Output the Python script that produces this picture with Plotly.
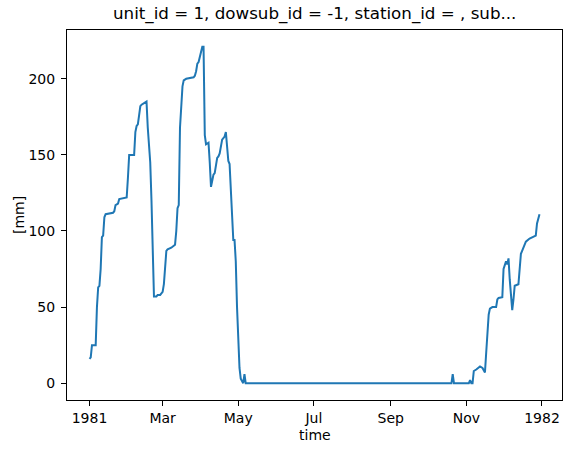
import plotly.graph_objects as go

# Daily series (breakpoints), 1981
dates = [
    "1981-01-01", "1981-01-02", "1981-01-03", "1981-01-06", "1981-01-07", "1981-01-08",
    "1981-01-09", "1981-01-10", "1981-01-11", "1981-01-12", "1981-01-13", "1981-01-14",
    "1981-01-20", "1981-01-21", "1981-01-22", "1981-01-24", "1981-01-25", "1981-01-31",
    "1981-02-01", "1981-02-02", "1981-02-06", "1981-02-07", "1981-02-08", "1981-02-09",
    "1981-02-10", "1981-02-11", "1981-02-12", "1981-02-14", "1981-02-16", "1981-02-17",
    "1981-02-19", "1981-02-20", "1981-02-22", "1981-02-24", "1981-02-25", "1981-02-27",
    "1981-02-28", "1981-03-01", "1981-03-02", "1981-03-03", "1981-03-04", "1981-03-05",
    "1981-03-08", "1981-03-11", "1981-03-12", "1981-03-13", "1981-03-14", "1981-03-15",
    "1981-03-16", "1981-03-17", "1981-03-18", "1981-03-20", "1981-03-26", "1981-03-27",
    "1981-03-28", "1981-03-29", "1981-03-30", "1981-03-31", "1981-04-01", "1981-04-02",
    "1981-04-03", "1981-04-04", "1981-04-05", "1981-04-07", "1981-04-08", "1981-04-09",
    "1981-04-10", "1981-04-11", "1981-04-12", "1981-04-13", "1981-04-14", "1981-04-15",
    "1981-04-16", "1981-04-18", "1981-04-20", "1981-04-21", "1981-04-22", "1981-04-23",
    "1981-04-24", "1981-04-25", "1981-04-26", "1981-04-27", "1981-04-28", "1981-04-29",
    "1981-04-30", "1981-05-01", "1981-05-02", "1981-05-03", "1981-05-04", "1981-05-05",
    "1981-05-06", "1981-05-07", "1981-10-20", "1981-10-21", "1981-10-22", "1981-11-03",
    "1981-11-04", "1981-11-05", "1981-11-06", "1981-11-07", "1981-11-09", "1981-11-12",
    "1981-11-14", "1981-11-16", "1981-11-17", "1981-11-18", "1981-11-19", "1981-11-20",
    "1981-11-22", "1981-11-25", "1981-11-26", "1981-11-27", "1981-11-30", "1981-12-01",
    "1981-12-02", "1981-12-03", "1981-12-04", "1981-12-05", "1981-12-06", "1981-12-08",
    "1981-12-09", "1981-12-10", "1981-12-13", "1981-12-14", "1981-12-15", "1981-12-16",
    "1981-12-17", "1981-12-18", "1981-12-19", "1981-12-22", "1981-12-25", "1981-12-27",
    "1981-12-28", "1981-12-29", "1981-12-30",
]
depth_mm = [
    16, 17, 25, 25, 50, 63,
    64, 75, 96, 97, 109, 111,
    112, 113, 117, 118, 121, 122,
    135, 150, 150, 165, 169, 170,
    176, 182, 183, 184, 185, 168,
    145, 120, 57, 57, 58, 58,
    59, 60, 65, 75, 87, 88,
    89, 91, 100, 115, 117, 168,
    185, 195, 199, 200, 201, 202,
    205, 210, 211, 215, 218, 221,
    221, 163, 157, 158, 145, 129,
    133, 137, 138, 142, 148, 149,
    151, 160, 162, 165, 155, 146,
    144, 125, 110, 94, 94, 80,
    50, 30, 10, 3, 1, 0,
    6, 0, 0, 6, 0, 0,
    2, 0, 0, 8, 9, 11,
    10, 7, 20, 33, 45, 49,
    50, 50, 55, 56, 56.5, 75,
    78, 80, 78, 82, 68, 48,
    55, 64, 65, 75, 85, 87,
    89, 91, 93, 95, 96, 97,
    105, 109, 111,
]

x_tickvals = ["1981-01-01", "1981-03-01", "1981-05-01", "1981-07-01",
              "1981-09-01", "1981-11-01", "1982-01-01"]
x_ticktext = ["1981", "Mar", "May", "Jul", "Sep", "Nov", "1982"]
y_tickvals = [0, 50, 100, 150, 200]

title_text = "unit_id = 1, dowsub_id = -1, station_id = , sub..."
font_family = "DejaVu Sans"

fig = go.Figure()
fig.add_trace(go.Scatter(
    x=dates,
    y=depth_mm,
    mode="lines",
    line=dict(color="#1f77b4", width=2),
    showlegend=False,
))

axis_style = dict(
    automargin=False,
    showgrid=False,
    zeroline=False,
    showline=True,
    linecolor="black",
    linewidth=1,
    mirror=True,
    ticks="outside",
    ticklen=5,
    tickwidth=1,
    tickcolor="black",
    tickfont=dict(family=font_family, size=14, color="black"),
)

fig.update_layout(
    width=571,
    height=453,
    margin=dict(l=67, r=9, t=30, b=53),
    plot_bgcolor="white",
    paper_bgcolor="white",
    font=dict(family=font_family, color="black"),
    xaxis=dict(
        range=["1980-12-13 20:24", "1982-01-17 03:36"],
        tickmode="array",
        tickvals=x_tickvals,
        ticktext=x_ticktext,
        **axis_style,
    ),
    yaxis=dict(
        range=[-11.05, 232.05],
        tickmode="array",
        tickvals=y_tickvals,
        ticklabelstandoff=3,
        **axis_style,
    ),
    annotations=[
        dict(text=title_text, xref="paper", yref="paper", x=0.5, y=1,
             xanchor="center", yanchor="bottom", yshift=4, showarrow=False,
             font=dict(family=font_family, size=16.7, color="black")),
        dict(text="time", xref="paper", yref="paper", x=0.5, y=0,
             xanchor="center", yanchor="middle", yshift=-35, showarrow=False,
             font=dict(family=font_family, size=14, color="black")),
        dict(text="[mm]", xref="paper", yref="paper", x=0, y=0.5,
             xanchor="center", yanchor="middle", xshift=-48, textangle=-90,
             showarrow=False,
             font=dict(family=font_family, size=14, color="black")),
    ],
)

# drop the browser's default page margin so the figure sits at 0,0
fig.write_html("out.html", config={"displayModeBar": False},
               post_script="document.body.style.margin='0';")
